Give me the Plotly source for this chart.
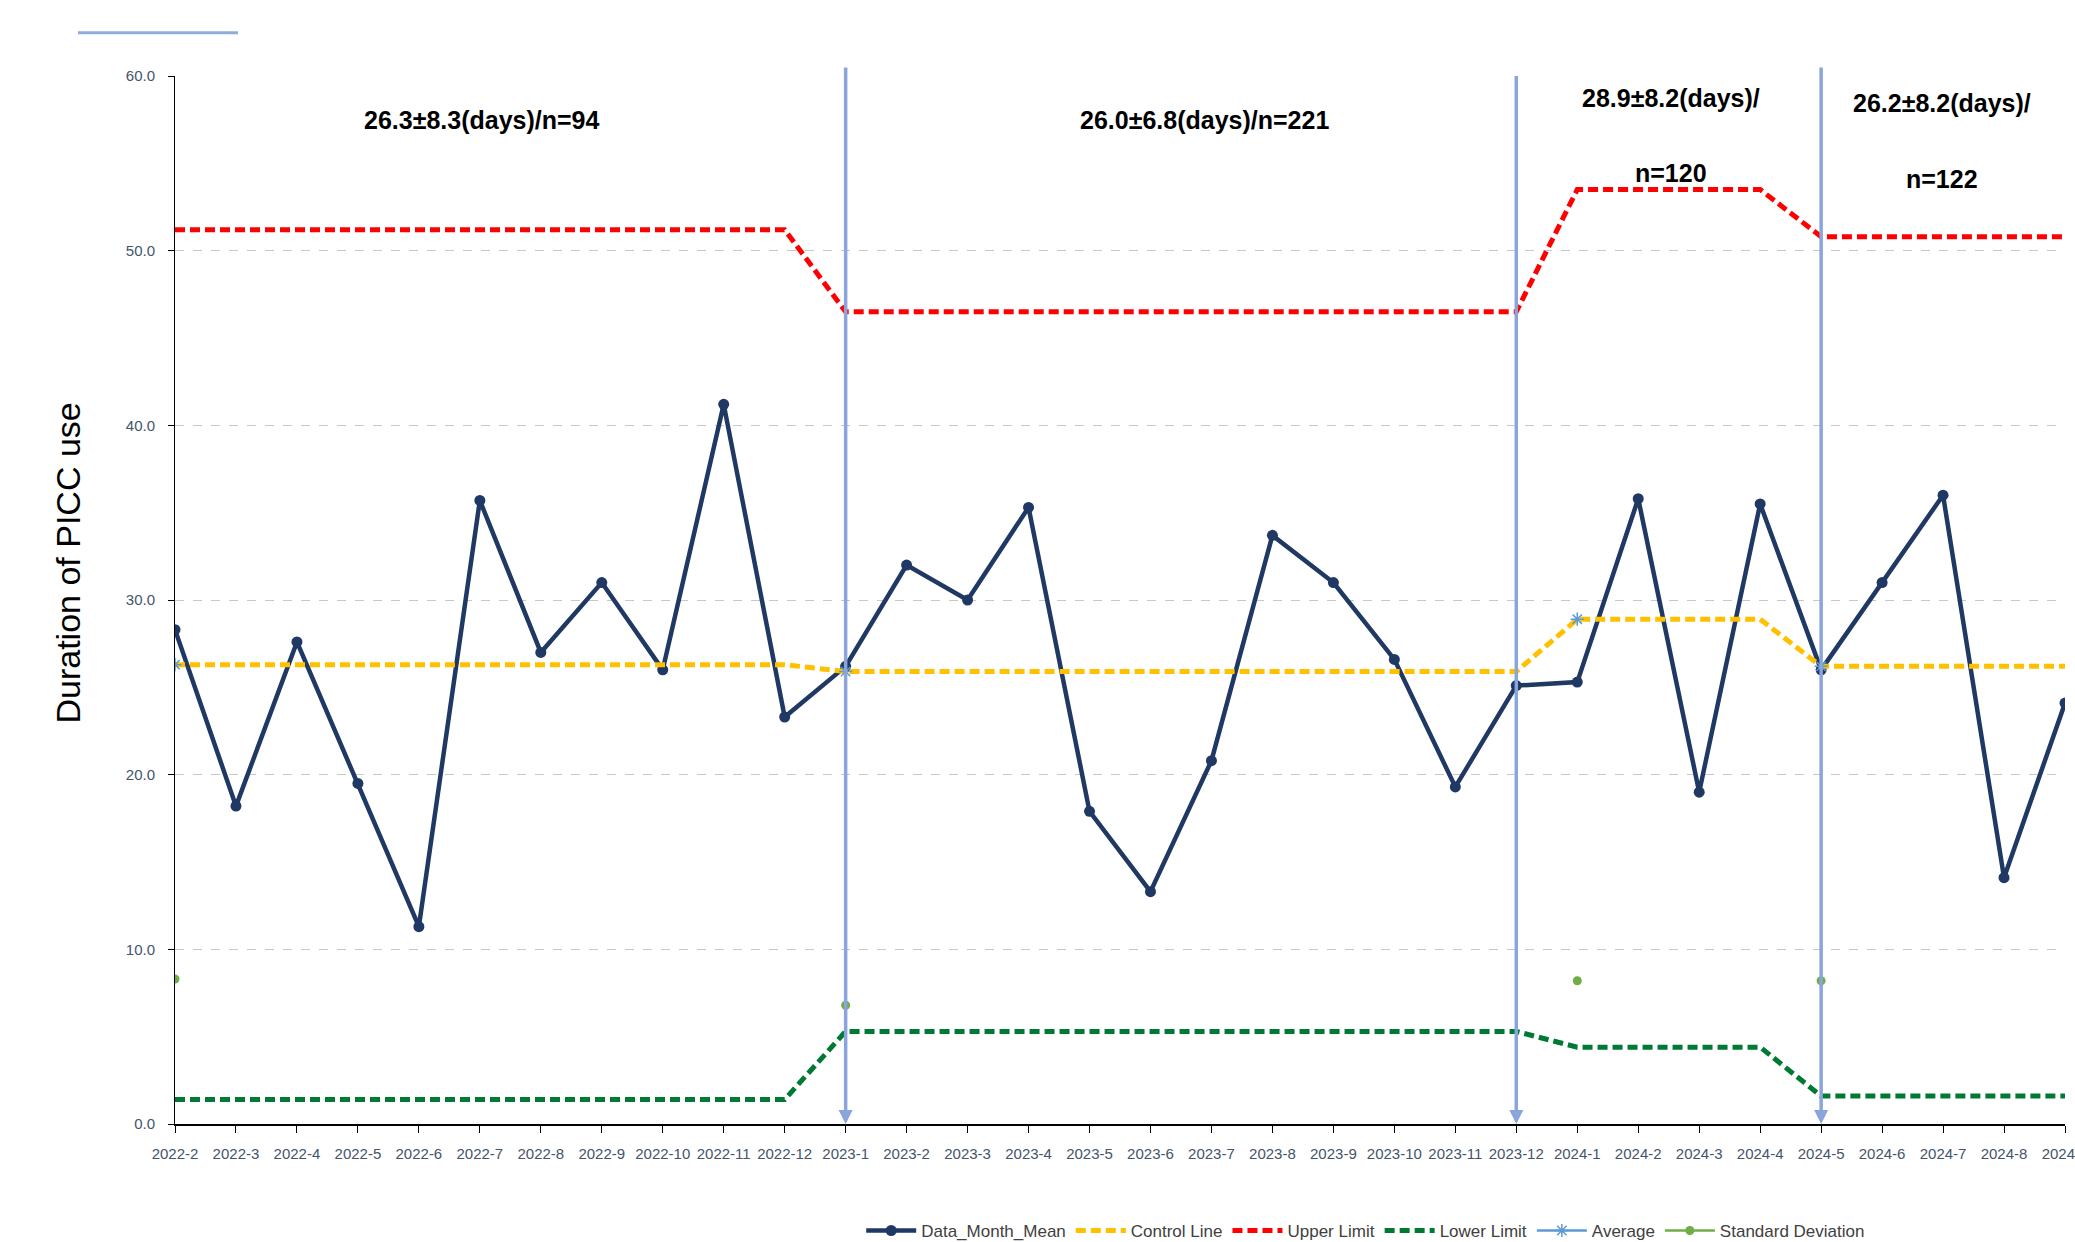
import plotly.graph_objects as go

months = ["2022-2", "2022-3", "2022-4", "2022-5", "2022-6", "2022-7", "2022-8", "2022-9",
          "2022-10", "2022-11", "2022-12",
          "2023-1", "2023-2", "2023-3", "2023-4", "2023-5", "2023-6", "2023-7", "2023-8",
          "2023-9", "2023-10", "2023-11", "2023-12",
          "2024-1", "2024-2", "2024-3", "2024-4", "2024-5", "2024-6", "2024-7", "2024-8", "2024-9"]

data_month_mean = [28.3, 18.2, 27.6, 19.5, 11.3, 35.7, 27.0, 31.0, 26.0, 41.2, 23.3,
                   26.2, 32.0, 30.0, 35.3, 17.9, 13.3, 20.8, 33.7, 31.0, 26.6, 19.3, 25.1,
                   25.3, 35.8, 19.0, 35.5, 26.0, 31.0, 36.0, 14.1, 24.1]

control_line = [26.3] * 11 + [25.9] * 12 + [28.9] * 4 + [26.2] * 5
upper_limit = [51.2] * 11 + [46.5] * 12 + [53.5] * 4 + [50.8] * 5
lower_limit = [1.4] * 11 + [5.3] * 12 + [4.4] * 4 + [1.6] * 5

average = [26.3] + [None] * 10 + [25.9] + [None] * 11 + [28.9] + [None] * 3 + [26.2] + [None] * 4
std_dev = [8.3] + [None] * 10 + [6.8] + [None] * 11 + [8.2] + [None] * 3 + [8.2] + [None] * 4

phase_breaks = [11, 22, 27]
phase_labels = [["26.3±8.3(days)/n=94"],
                ["26.0±6.8(days)/n=221"],
                ["28.9±8.2(days)/", "n=120"],
                ["26.2±8.2(days)/", "n=122"]]

x = list(range(len(months)))
dash = "10px,5px"

fig = go.Figure()
fig.add_trace(go.Scatter(x=x, y=data_month_mean, name="Data_Month_Mean", mode="lines+markers",
                         line=dict(color="#1F3864", width=4.5),
                         marker=dict(size=11, color="#1F3864")))
fig.add_trace(go.Scatter(x=x, y=control_line, name="Control Line", mode="lines",
                         line=dict(color="#FFC000", width=5, dash=dash)))
fig.add_trace(go.Scatter(x=x, y=upper_limit, name="Upper Limit", mode="lines",
                         line=dict(color="#FF0000", width=5, dash=dash)))
fig.add_trace(go.Scatter(x=x, y=lower_limit, name="Lower Limit", mode="lines",
                         line=dict(color="#007A33", width=5, dash=dash)))
fig.add_trace(go.Scatter(x=x, y=average, name="Average", mode="lines+markers",
                         connectgaps=False,
                         line=dict(color="#5B9BD5", width=2.5),
                         marker=dict(symbol="asterisk-open", size=11,
                                     line=dict(color="#5B9BD5", width=1.5))))
fig.add_trace(go.Scatter(x=x, y=std_dev, name="Standard Deviation", mode="lines+markers",
                         connectgaps=False,
                         line=dict(color="#70AD47", width=2.5),
                         marker=dict(symbol="circle", size=9, color="#70AD47")))

annotations = []
# phase separator lines with arrowheads
tops = [60.57, 60.09, 60.57]
for b, top in zip(phase_breaks, tops):
    annotations.append(dict(x=b, y=0, ax=b, ay=top, xref="x", yref="y", axref="x", ayref="y",
                            text="", showarrow=True, arrowhead=2, arrowsize=0.8, arrowwidth=3.5,
                            arrowcolor="#8AA5DB", standoff=0, startstandoff=0))

label_pos = [(5.02, [57.5]), (16.88, [57.5]), (24.54, [58.75, 54.45]), (28.98, [58.45, 54.1])]
ann_font = dict(family="Liberation Sans, Arial", size=25, color="#000000")
for lines, (lx, ys) in zip(phase_labels, label_pos):
    for t, ly in zip(lines, ys):
        annotations.append(dict(x=lx, y=ly, xref="x", yref="y", text="<b>%s</b>" % t,
                                showarrow=False, xanchor="center", yanchor="middle", font=ann_font))

annotations.append(dict(x=-0.0565, y=0.535, xref="paper", yref="paper", text="Duration of PICC use",
                        textangle=-90, showarrow=False, xanchor="center", yanchor="middle",
                        font=dict(family="Liberation Sans, Arial", size=34, color="#000000")))

fig.update_layout(
    width=2075, height=1242, autosize=False,
    margin=dict(l=175, r=10, t=76, b=118),
    paper_bgcolor="white", plot_bgcolor="white",
    showlegend=True,
    legend=dict(orientation="h", x=0.63, xanchor="center", yref="container", y=0.0089,
                yanchor="middle", itemwidth=50,
                font=dict(family="Liberation Sans, Arial", size=17, color="#404040"),
                bgcolor="rgba(0,0,0,0)"),
    annotations=annotations,
    shapes=[dict(type="line", xref="paper", yref="paper", x0=-0.0513, x1=0.0333, y0=1.0413, y1=1.0413,
                 line=dict(color="#8FAADC", width=3))],
    xaxis=dict(range=[0, 31], tickmode="array", tickvals=x, ticktext=months,
               showline=True, linecolor="#000000", linewidth=2, ticks="outside", ticklen=7,
               tickcolor="#000000", tickfont=dict(family="Liberation Sans, Arial", size=15, color="#44546A"),
               showgrid=False, zeroline=False, automargin=False, ticklabelstandoff=8,
               ticklabeloverflow="allow"),
    yaxis=dict(range=[0, 60], dtick=10, tickformat=".1f", showline=True, linecolor="#000000",
               linewidth=1, ticks="outside", ticklen=6, tickcolor="#000000",
               tickfont=dict(family="Liberation Sans, Arial", size=15, color="#44546A"),
               showgrid=True, gridcolor="#C8C8C8", griddash="dash", gridwidth=1,
               zeroline=False, automargin=False, ticklabelstandoff=10),
)

fig.write_html("out.html", config={"displayModeBar": False},
               post_script="document.body.style.margin='0';")
